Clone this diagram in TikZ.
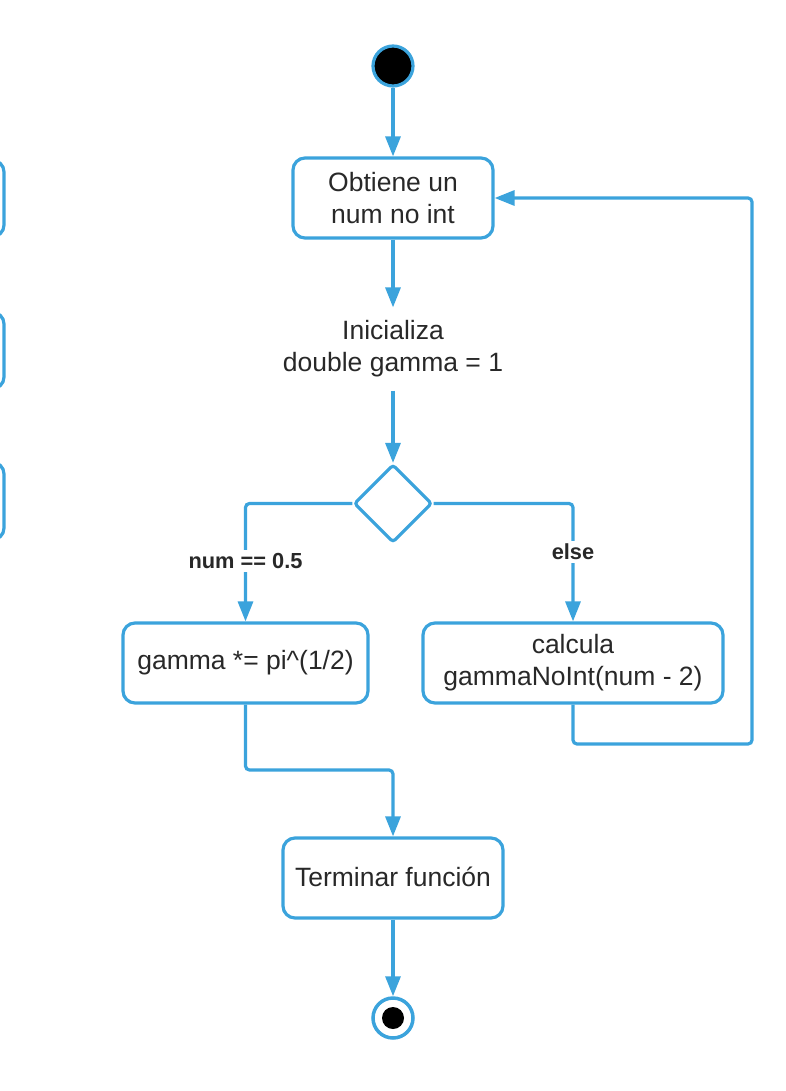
\documentclass[tikz,border=0pt]{standalone}
\usepackage{fontspec}
\setmainfont{Liberation Sans}
\usetikzlibrary{arrows.meta,shapes.geometric}
\definecolor{lineblue}{RGB}{59,163,220}
\definecolor{txt}{RGB}{40,40,40}
\begin{document}
\begin{tikzpicture}[x=1pt,y=-1pt,
  line width=3.2pt,
  every node/.style={text=txt},
  actbox/.style={draw=lineblue, rounded corners=12pt, align=center, inner sep=0pt, font=\fontsize{26.5}{32}\selectfont},
  plaintext/.style={align=center, inner sep=0pt, font=\fontsize{26.5}{32}\selectfont},
  lbl/.style={fill=white, inner sep=3pt, font=\bfseries\fontsize{21.8}{24}\selectfont},
  flow/.style={draw=lineblue, rounded corners=4pt, -{Triangle[length=20pt,width=15pt]}},
  plainflow/.style={draw=lineblue, rounded corners=4pt}
]
\useasboundingbox (0,0) rectangle (786,1091);
\begin{scope}
\clip (0,0) rectangle (786,1091);
% partial boxes at left edge
\draw[draw=lineblue, rounded corners=12pt] (-150,160) rectangle (4,237);
\draw[draw=lineblue, rounded corners=12pt] (-150,312) rectangle (4,389);
\draw[draw=lineblue, rounded corners=12pt] (-150,462) rectangle (4,540);
\end{scope}

% start
\node[circle, draw=lineblue, fill=black, minimum size=40pt, inner sep=0pt] (start) at (393,66) {};

\node[actbox, minimum width=200pt, minimum height=80pt] (b1) at (393,198) {Obtiene un\\num no int};

\node[plaintext, minimum width=240pt, minimum height=80pt] (init) at (393,349) {Inicializa\\double gamma = 1};

\node[diamond, draw=lineblue, rounded corners=3pt, minimum width=78pt, minimum height=78pt, inner sep=0pt, aspect=1] (dec) at (393,503.5) {};

\node[actbox, minimum width=245pt, minimum height=80pt] (b2) at (245.5,663) {gamma *= pi\^{}(1/2)};

\node[actbox, minimum width=300pt, minimum height=80pt] (b3) at (573,663) {calcula\\gammaNoInt(num - 2)};

\node[actbox, minimum width=220pt, minimum height=80pt] (b4) at (393,878) {\raisebox{2pt}{Terminar función}};

% end node
\node[circle, draw=lineblue, line width=3.5pt, minimum size=40pt, inner sep=0pt] (end) at (393,1018) {};
\node[circle, fill=black, minimum size=22pt, inner sep=0pt] (endin) at (end.center) {};

\coordinate (loopc) at (752,744);
\coordinate (merge) at (245.5,770);

% connectors
\draw[flow] (start) -- (b1);
\draw[flow] (b1) -- (init);
\draw[flow] (init) -- (dec);
\draw[flow] (dec.west) -| (b2.north);
\draw[flow] (dec.east) -| (b3.north);
\draw[flow] (b3.south) |- (loopc) |- (b1.east);
\draw[flow] (b2.south) -- (merge) -| (b4.north);
\draw[flow] (b4) -- (end);

% labels
\node[lbl] (l1) at (245.5,561) {num == 0.5};
\node[lbl] (l2) at (573,552) {else};
\end{tikzpicture}
\end{document}
